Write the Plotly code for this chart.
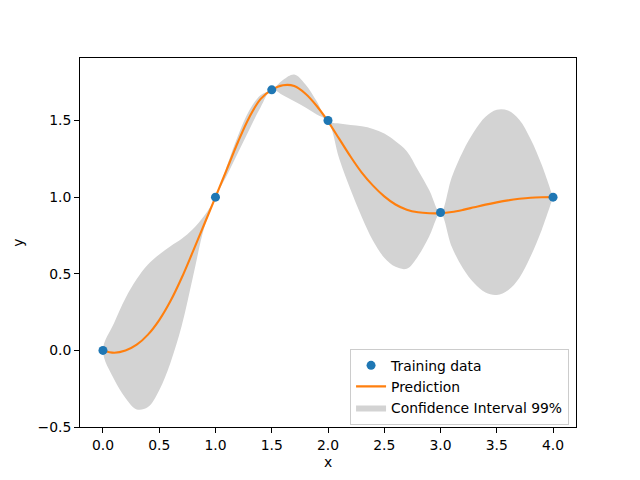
import plotly.graph_objects as go

# Training data
x_train = [0.0, 1.0, 1.5, 2.0, 3.0, 4.0]
y_train = [0.0, 1.0, 1.7, 1.5, 0.9, 1.0]

# Prediction grid
x_grid = [0.0, 0.1, 0.2, 0.3, 0.4, 0.5, 0.6, 0.7, 0.8, 0.9,
          1.0, 1.1, 1.2, 1.3, 1.4, 1.5, 1.6, 1.7, 1.8, 1.9,
          2.0, 2.1, 2.2, 2.3, 2.4, 2.5, 2.6, 2.7, 2.8, 2.9,
          3.0, 3.1, 3.2, 3.3, 3.4, 3.5, 3.6, 3.7, 3.8, 3.9, 4.0]
y_mean = [0.0, -0.015, -0.001, 0.037, 0.103, 0.198, 0.322, 0.474, 0.646, 0.823,
          1.0, 1.18, 1.36, 1.52, 1.64, 1.70, 1.73, 1.725, 1.675, 1.595,
          1.495, 1.38, 1.265, 1.16, 1.075, 1.005, 0.952, 0.918, 0.901, 0.895,
          0.895, 0.903, 0.917, 0.934, 0.951, 0.966, 0.979, 0.989, 0.996, 0.999, 1.0]
y_upper = [0.0, 0.18, 0.34, 0.465, 0.56, 0.625, 0.68, 0.728, 0.792, 0.878,
           1.0, 1.20, 1.40, 1.565, 1.665, 1.70, 1.765, 1.80, 1.735, 1.625,
           1.495, 1.48, 1.47, 1.462, 1.445, 1.415, 1.365, 1.30, 1.175, 1.045,
           0.895, 1.13, 1.30, 1.43, 1.525, 1.57, 1.565, 1.505, 1.38, 1.21, 1.0]
y_lower = [0.0, -0.19, -0.31, -0.385, -0.37, -0.26, -0.08, 0.16, 0.48, 0.80,
           1.0, 1.14, 1.29, 1.44, 1.585, 1.70, 1.665, 1.625, 1.585, 1.54,
           1.495, 1.25, 1.05, 0.87, 0.715, 0.605, 0.545, 0.533, 0.615, 0.745,
           0.895, 0.676, 0.534, 0.438, 0.377, 0.362, 0.393, 0.473, 0.612, 0.788, 1.0]

x_ticks = [0.0, 0.5, 1.0, 1.5, 2.0, 2.5, 3.0, 3.5, 4.0]
y_ticks = [-0.5, 0.0, 0.5, 1.0, 1.5]

FONT = "DejaVu Sans"
FS = 13.9

fig = go.Figure()

fig.add_trace(go.Scatter(
    x=x_grid + x_grid[::-1],
    y=y_upper + y_lower[::-1],
    fill="toself", fillcolor="#d3d3d3",
    line=dict(width=0, shape="spline", smoothing=1.0),
    mode="lines", name="Confidence Interval 99%",
    legendrank=3, hoverinfo="skip",
))
fig.add_trace(go.Scatter(
    x=x_grid, y=y_mean, mode="lines", name="Prediction",
    line=dict(color="#ff7f0e", width=2.1, shape="spline", smoothing=1.0),
    legendrank=2,
))
fig.add_trace(go.Scatter(
    x=x_train, y=y_train, mode="markers", name="Training data",
    marker=dict(color="#1f77b4", size=9, line=dict(width=0)),
    legendrank=1,
))

axis_common = dict(
    showgrid=False, zeroline=False, showline=True, linecolor="black",
    linewidth=1, mirror=True, ticks="outside", ticklen=4.9, tickwidth=1,
    tickcolor="black", tickfont=dict(family=FONT, size=FS, color="black"),
    tickformat=".1f",
)

fig.update_layout(
    width=640, height=480,
    margin=dict(l=80, r=64, t=58, b=53),
    paper_bgcolor="white", plot_bgcolor="white",
    font=dict(family=FONT, size=FS, color="black"),
    xaxis=dict(range=[-0.204, 4.204], tickvals=x_ticks,
               title=dict(text="x", font=dict(family=FONT, size=FS), standoff=5),
               **axis_common),
    yaxis=dict(range=[-0.5, 1.908], tickvals=y_ticks,
               title=dict(text="y", font=dict(family=FONT, size=FS), standoff=10),
               **axis_common),
    legend=dict(x=0.986, y=0.006, xanchor="right", yanchor="bottom",
                bgcolor="rgba(255,255,255,0.8)", bordercolor="#cccccc",
                borderwidth=1, font=dict(family=FONT, size=FS),
                traceorder="normal", tracegroupgap=0, itemwidth=30),
    showlegend=True,
)

fig.write_html("out.html")
